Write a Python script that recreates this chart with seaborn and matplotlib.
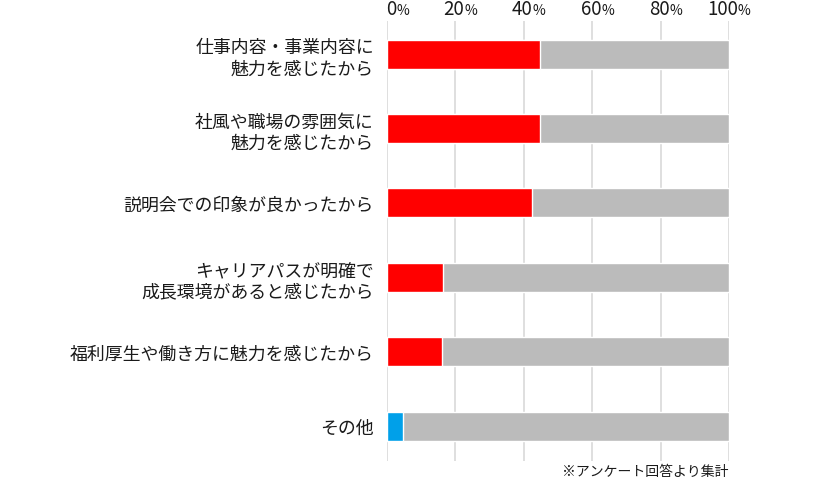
import pandas as pd
import matplotlib.pyplot as plt
import seaborn as sns

sns.set_style("white")
plt.rcParams['font.family'] = ['Noto Sans CJK JP', 'DejaVu Sans']

# data
reasons = [
    "仕事内容・事業内容に\n魅力を感じたから",
    "社風や職場の雰囲気に\n魅力を感じたから",
    "説明会での印象が良かったから",
    "キャリアパスが明確で\n成長環境があると感じたから",
    "福利厚生や働き方に魅力を感じたから",
    "その他",
]
shares = [44.6, 44.6, 42.3, 16.5, 16.2, 4.6]
bar_colors = ["#FF0000", "#FF0000", "#FF0000", "#FF0000", "#FF0000", "#00A0E9"]
ticks = [0, 20, 40, 60, 80, 100]

df = pd.DataFrame({"reason": reasons, "share": shares, "total": [100] * len(reasons)})

fig = plt.figure(figsize=(8.2, 4.85), dpi=100)
ax = fig.add_axes([0.472, 0.0474, 0.417, 0.907])

# background bars (100%)
sns.barplot(data=df, x="total", y="reason", color="#BBBBBB", width=0.39,
            orient="h", ax=ax, saturation=1, zorder=2)
# answer shares
sns.barplot(data=df, x="share", y="reason", hue="reason", palette=bar_colors,
            width=0.39, orient="h", ax=ax, saturation=1, legend=False, zorder=3)

ax.set_xlim(0, 100)
ax.set_ylim(5.47, -0.444)
ax.set_xticks(ticks)
ax.set_xticklabels([])
ax.xaxis.grid(True, color="#D9D9D9", linewidth=1.2, zorder=0)
ax.set_axisbelow(True)
ax.tick_params(axis="x", length=0)
ax.tick_params(axis="y", length=0, pad=9.5, labelsize=12.9)
for lbl in ax.get_yticklabels():
    lbl.set_linespacing(1.22)
    lbl.set_color("#1A1A1A")
for s in ax.spines.values():
    s.set_visible(False)
ax.set_xlabel("")
ax.set_ylabel("")

# top tick labels: number with a smaller percent sign
for t in ticks:
    ax.annotate(str(t), xy=(t, 1), xycoords=("data", "axes fraction"),
                xytext=(9, 7), textcoords="offset pixels",
                ha="right", va="baseline", fontsize=13.5, color="#1A1A1A")
    ax.annotate("%", xy=(t, 1), xycoords=("data", "axes fraction"),
                xytext=(9, 7), textcoords="offset pixels",
                ha="left", va="baseline", fontsize=10, color="#1A1A1A")

fig.text(0.888, 0.012, "※アンケート回答より集計", ha="right", va="bottom",
         fontsize=10, color="#1A1A1A")

fig.savefig("out.png", dpi=100)
